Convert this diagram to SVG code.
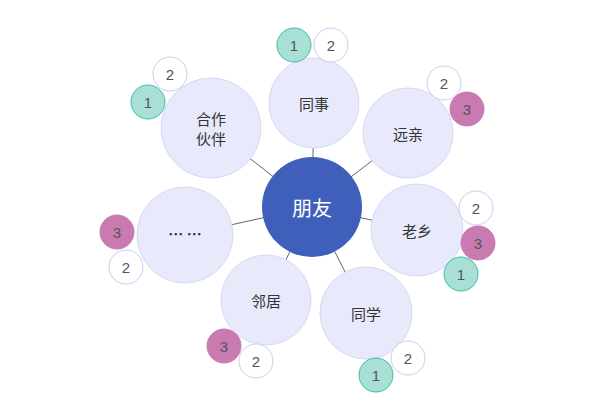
<svg xmlns="http://www.w3.org/2000/svg" width="600" height="417" viewBox="0 0 600 417">
<style>
.n{fill:#e8eafc;stroke:#d4d8f5;stroke-width:1}
.t{font-family:"Noto Sans CJK SC","Liberation Sans",sans-serif;font-size:15px;fill:#333;text-anchor:middle;dominant-baseline:central}
.w{fill:#fff;stroke:#c8cdf0}
.g{fill:#a8e0d6;stroke:#3fbcab}
.p{fill:#c97ab0;stroke:#c97ab0}
.s{font-family:"Liberation Sans",sans-serif;font-size:15px;fill:#555;text-anchor:middle;dominant-baseline:central}
line{stroke:#666;stroke-width:1}
</style>
<rect width="600" height="417" fill="#fff"/>
<g id="connectors">
<line x1="312" y1="207" x2="314" y2="103"/><line x1="312" y1="207" x2="408" y2="133"/>
<line x1="312" y1="207" x2="417" y2="230"/><line x1="312" y1="207" x2="366" y2="313"/>
<line x1="312" y1="207" x2="266" y2="300"/><line x1="312" y1="207" x2="185" y2="235"/>
<line x1="312" y1="207" x2="211" y2="128"/>
</g>
<g id="tongshi"><circle class="n" cx="314" cy="103" r="45"/><text class="t" x="314" y="103">同事</text>
<circle class="g" cx="294" cy="45" r="17"/><text class="s" x="294" y="45">1</text>
<circle class="w" cx="331" cy="45" r="17"/><text class="s" x="331" y="45">2</text></g>
<g id="yuanqin"><circle class="n" cx="408" cy="133" r="45"/><text class="t" x="408" y="133">远亲</text>
<circle class="w" cx="444" cy="83" r="17"/><text class="s" x="444" y="83">2</text>
<circle class="p" cx="467" cy="109" r="17"/><text class="s" x="467" y="109">3</text></g>
<g id="laoxiang"><circle class="n" cx="417" cy="230" r="46"/><text class="t" x="417" y="230">老乡</text>
<circle class="w" cx="476" cy="208" r="17"/><text class="s" x="476" y="208">2</text>
<circle class="p" cx="478" cy="243" r="17"/><text class="s" x="478" y="243">3</text>
<circle class="g" cx="461" cy="274" r="17"/><text class="s" x="461" y="274">1</text></g>
<g id="tongxue"><circle class="n" cx="366" cy="313" r="46"/><text class="t" x="366" y="313">同学</text>
<circle class="g" cx="376" cy="375" r="17"/><text class="s" x="376" y="375">1</text>
<circle class="w" cx="408" cy="358" r="17"/><text class="s" x="408" y="358">2</text></g>
<g id="linju"><circle class="n" cx="266" cy="300" r="45"/><text class="t" x="266" y="300">邻居</text>
<circle class="p" cx="224" cy="346" r="17"/><text class="s" x="224" y="346">3</text>
<circle class="w" cx="256" cy="361" r="17"/><text class="s" x="256" y="361">2</text></g>
<g id="more"><circle class="n" cx="185" cy="235" r="48"/><text class="t" x="185" y="233" style="font-weight:bold">… …</text>
<circle class="p" cx="117" cy="232" r="17"/><text class="s" x="117" y="232">3</text>
<circle class="w" cx="126" cy="267" r="17"/><text class="s" x="126" y="267">2</text></g>
<g id="hezuo"><circle class="n" cx="211" cy="128" r="50"/><text class="t" x="211" y="118">合作</text><text class="t" x="211" y="138">伙伴</text>
<circle class="w" cx="170" cy="74" r="17"/><text class="s" x="170" y="74">2</text>
<circle class="g" cx="148" cy="102" r="17"/><text class="s" x="148" y="102">1</text></g>
<g id="pengyou"><circle cx="312" cy="207" r="50" fill="#3f5fbb"/><text class="t" x="312" y="207" style="fill:#fff;font-size:20px">朋友</text></g>
</svg>
